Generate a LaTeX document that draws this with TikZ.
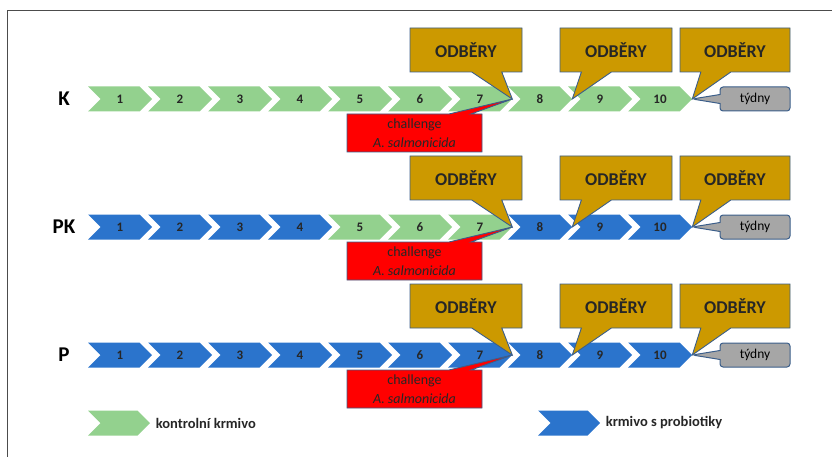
\documentclass[tikz,border=0pt]{standalone}
\usepackage{fontspec}
\setmainfont{Carlito}
\usetikzlibrary{shapes.symbols,shapes.callouts,positioning}
\definecolor{FeedCtrl}{HTML}{93D18E}
\definecolor{FeedProb}{HTML}{2B74CC}
\definecolor{SampleGold}{HTML}{CC9900}
\definecolor{EdgeBlue}{HTML}{3B5E8A}
\definecolor{WeekGrey}{HTML}{A6A6A6}
\definecolor{ChallRed}{HTML}{FF0000}
\tikzset{chev/.style={signal,signal to=east,signal from=west,minimum width=64pt,
 minimum height=25pt,inner sep=0pt,font=\bfseries\fontsize{13}{15}\selectfont,text=black!85},
 ctrl/.style={chev,fill=FeedCtrl},prob/.style={chev,fill=FeedProb},
 sample/.style={rectangle callout,draw=EdgeBlue,line width=.9pt,fill=SampleGold,
 minimum width=112pt,minimum height=44pt,callout pointer width=30pt,
 font=\bfseries\fontsize{18}{21}\selectfont,text=black!85},
 weeks/.style={rectangle callout,rounded corners=3pt,draw=EdgeBlue,line width=1pt,
 fill=WeekGrey,minimum width=70pt,minimum height=24pt,callout pointer width=9pt,
 font=\fontsize{13.5}{15}\selectfont},
 chall/.style={rectangle callout,draw=EdgeBlue,line width=.9pt,fill=ChallRed,
 minimum width=135pt,minimum height=38pt,callout pointer width=22pt,align=center,
 font=\fontsize{14}{19}\selectfont,text=black!85},
 rowlab/.style={font=\bfseries\fontsize{21}{24}\selectfont},
 legtext/.style={font=\bfseries\fontsize{14.5}{17}\selectfont,text=black!85}}
\begin{document}
\begin{tikzpicture}[x=1pt,y=-1pt]
\useasboundingbox (0,0) rectangle (832,457);
\coordinate (fr-bl) at (7,457);\coordinate (fr-tl) at (7,11);\coordinate (fr-tr) at (832,11);
\draw[black!70,line width=1pt] (fr-bl)--(fr-tl)--(fr-tr);
% three feeding schemes
\foreach \r/\y/\lab/\sty in {k/99/K/{ctrl,ctrl,ctrl,ctrl,ctrl,ctrl,ctrl,ctrl,ctrl,ctrl},
 pk/227/PK/{prob,prob,prob,prob,ctrl,ctrl,ctrl,prob,prob,prob},
 p/355/P/{prob,prob,prob,prob,prob,prob,prob,prob,prob,prob}}
 {\node[rowlab] (\r-lab) at (64,\y) {\lab};
  \foreach \s [count=\i] in \sty
   {\node[\s] (\r\i) at ({120+60*(\i-1)},\y) {\i};}
  \node[chall,callout absolute pointer={(\r7.east)}] (\r-ch) at (414.5,{\y+34})
   {challenge\\\textit{A. salmonicida}};
  \node[sample,callout absolute pointer={(\r7.east)}] (\r-s1) at (466,{\y-49}) {ODBĚRY};
  \node[sample,callout absolute pointer={(\r8.east)}] (\r-s2) at (616,{\y-49}) {ODBĚRY};
  \node[sample,minimum width=110pt,callout absolute pointer={(\r10.east)}] (\r-s3)
   at (735,{\y-49}) {ODBĚRY};
  \node[weeks,callout absolute pointer={(\r10.east)}] (\r-wk) at (755,\y) {týdny};}
% legend
\node[ctrl,minimum width=62pt] (lg-ctrl) at (119,423) {};
\node[legtext,right=2pt of lg-ctrl] (lg-ctrl-t) {kontrolní krmivo};
\node[prob,minimum width=62pt] (lg-prob) at (569,423) {};
\node[legtext,right=2pt of lg-prob] (lg-prob-t) {krmivo s probiotiky};
\end{tikzpicture}
\end{document}
